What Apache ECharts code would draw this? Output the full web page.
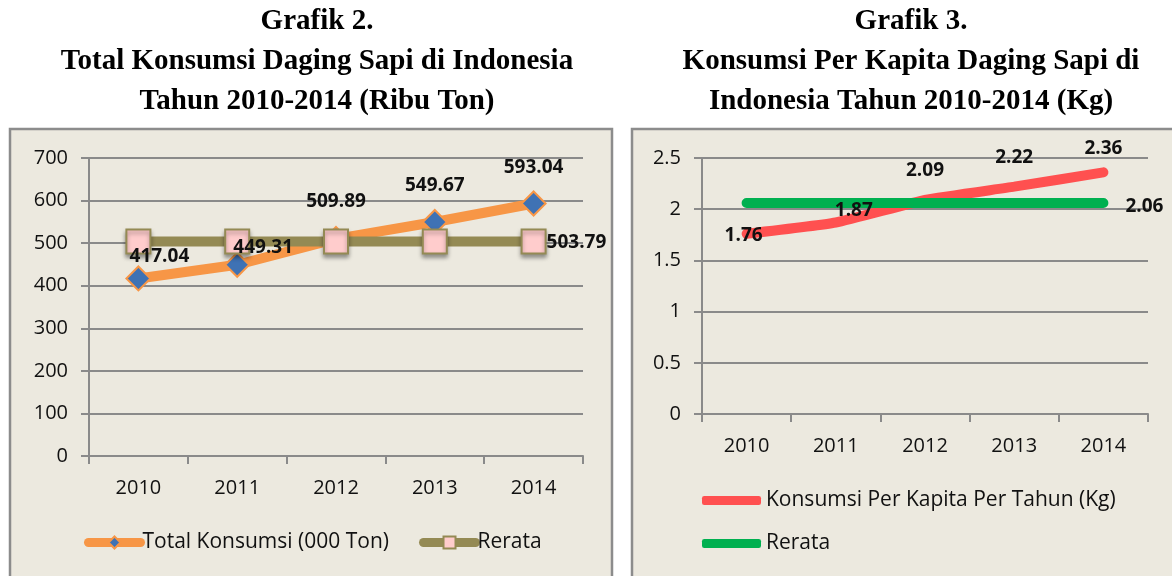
<!DOCTYPE html>
<html>
<head>
<meta charset="utf-8">
<script src="https://cdn.jsdelivr.net/npm/echarts@6/dist/echarts.min.js"></script>
<style>
  html, body { margin: 0; padding: 0; background: #ffffff; }
  #chart { width: 1172px; height: 576px; }
</style>
</head>
<body>
<div id="chart"></div>
<script>
// data
const years = ['2010', '2011', '2012', '2013', '2014'];
const totalKonsumsi = [417.04, 449.31, 509.89, 549.67, 593.04];
const rerataTotal = [503.79, 503.79, 503.79, 503.79, 503.79];
const perKapita = [1.76, 1.87, 2.09, 2.22, 2.36];
const rerataKapita = [2.06, 2.06, 2.06, 2.06, 2.06];
const ticksTotal = [0, 100, 200, 300, 400, 500, 600, 700];
const ticksKapita = [0, 0.5, 1, 1.5, 2, 2.5];

// label offsets (px) for each point
const offTotal = [[21, -22], [26, -17], [0, -37], [0, -36], [0, -36]];
const offKapita = [[-3, 2], [18, -12], [0, -29], [0, -29], [0, -24]];

const chart = echarts.init(document.getElementById('chart'));
const FONT = '"Open Sans", "Liberation Sans", sans-serif';
const SERIF = '"Liberation Serif", "DejaVu Serif", serif';
const gridCol = '#8a8a8a';
const panelBg = '#ecE9df';

const valLabel = {
    show: true,
    fontFamily: FONT,
    fontWeight: 'bold',
    fontSize: 19,
    color: '#111'
};

function lastOnly(vals, dist, off) {
    return vals.map((v, i) => ({
        value: v,
        label: i === vals.length - 1
            ? Object.assign({}, valLabel, { position: 'right', distance: dist, offset: off })
            : { show: false }
    }));
}

function withOffsets(vals, offs) {
    return vals.map((v, i) => ({
        value: v,
        label: Object.assign({}, valLabel, { position: 'inside', offset: offs[i] })
    }));
}

// invisible series only carrying the value labels, so they sit above every line
function labelSeries(gi, vals, offs) {
    return {
        name: 'label' + gi, type: 'line', xAxisIndex: gi, yAxisIndex: gi,
        data: withOffsets(vals, offs),
        symbol: 'circle', symbolSize: 0.1, showSymbol: true, silent: true,
        lineStyle: { width: 0, opacity: 0 },
        itemStyle: { color: 'rgba(0,0,0,0)' },
        z: 10
    };
}

function catAxis(gi) {
    return {
        type: 'category',
        gridIndex: gi,
        data: years,
        boundaryGap: true,
        axisLine: { lineStyle: { color: gridCol, width: 2 } },
        axisTick: { show: true, length: 8, lineStyle: { color: gridCol, width: 2 } },
        axisLabel: { fontFamily: FONT, fontSize: 20, color: '#111', margin: 22 }
    };
}

function valAxis(gi, ticks) {
    const step = ticks[1] - ticks[0];
    return {
        type: 'value',
        gridIndex: gi,
        min: ticks[0],
        max: ticks[ticks.length - 1],
        interval: step,
        axisLine: { show: true, lineStyle: { color: gridCol, width: 2 } },
        axisTick: { show: true, length: 8, lineStyle: { color: gridCol, width: 2 } },
        splitLine: { lineStyle: { color: gridCol, width: 2 } },
        axisLabel: { fontFamily: FONT, fontSize: 20, color: '#111', margin: 21 }
    };
}

chart.setOption({
    backgroundColor: '#ffffff',
    animation: false,
    graphic: [
        { type: 'rect', z: -10, shape: { x: 10, y: 129, width: 602, height: 470 },
          style: { fill: panelBg, stroke: '#8c8c8c', lineWidth: 2.5 } },
        { type: 'rect', z: -10, shape: { x: 632, y: 129, width: 560, height: 470 },
          style: { fill: panelBg, stroke: '#8c8c8c', lineWidth: 2.5 } }
    ],
    title: [
        { text: 'Grafik 2.\nTotal Konsumsi Daging Sapi di Indonesia\nTahun 2010-2014 (Ribu Ton)',
          left: 312, top: -3, textAlign: 'center',
          textStyle: { fontFamily: SERIF, fontWeight: 'bold', fontSize: 29, lineHeight: 40, color: '#000' } },
        { text: 'Grafik 3.\nKonsumsi Per Kapita Daging Sapi di\nIndonesia Tahun 2010-2014 (Kg)',
          left: 906, top: -3, textAlign: 'center',
          textStyle: { fontFamily: SERIF, fontWeight: 'bold', fontSize: 29, lineHeight: 40, color: '#000' } }
    ],
    legend: [
        { data: ['Total Konsumsi (000 Ton)', 'Rerata'], left: 79, top: 527,
          itemWidth: 52, itemHeight: 15, itemGap: 30,
          lineStyle: { width: 9, cap: 'round' },
          textStyle: { fontFamily: FONT, fontSize: 21, color: '#111', padding: [0, 0, 0, -3] } },
        { data: [{ name: 'Konsumsi Per Kapita Per Tahun (Kg)', icon: 'roundRect' },
                 { name: 'Rerata ', icon: 'roundRect' }],
          left: 697, top: 485, orient: 'vertical', itemWidth: 59, itemHeight: 9, itemGap: 22,
          textStyle: { fontFamily: FONT, fontSize: 21, color: '#111' } }
    ],
    grid: [
        { left: 89, top: 158, width: 494, height: 298 },
        { left: 702, top: 158, width: 446, height: 256 }
    ],
    xAxis: [catAxis(0), catAxis(1)],
    yAxis: [valAxis(0, ticksTotal), valAxis(1, ticksKapita)],
    series: [
        {
            name: 'Total Konsumsi (000 Ton)', type: 'line', xAxisIndex: 0, yAxisIndex: 0,
            data: totalKonsumsi,
            symbol: 'diamond', symbolSize: 24,
            lineStyle: { color: '#f79646', width: 10 },
            itemStyle: { color: '#3f72b4', borderColor: '#f79646', borderWidth: 2 },
            z: 2
        },
        {
            name: 'Rerata', type: 'line', xAxisIndex: 0, yAxisIndex: 0,
            data: lastOnly(rerataTotal, 0, [0, 1]),
            symbol: 'rect', symbolSize: 24,
            lineStyle: { color: '#948a54', width: 10 },
            itemStyle: { color: '#ffcccc', borderColor: '#948a54', borderWidth: 2,
                         shadowColor: 'rgba(0,0,0,0.35)', shadowBlur: 4, shadowOffsetY: 3 },
            z: 3
        },
        labelSeries(0, totalKonsumsi, offTotal),
        {
            name: 'Konsumsi Per Kapita Per Tahun (Kg)', type: 'line', xAxisIndex: 1, yAxisIndex: 1,
            data: perKapita,
            symbol: 'none', smooth: 0.15,
            lineStyle: { color: '#ff5050', width: 10, cap: 'round' },
            itemStyle: { color: '#ff5050' },
            z: 2
        },
        {
            name: 'Rerata ', type: 'line', xAxisIndex: 1, yAxisIndex: 1,
            data: lastOnly(rerataKapita, 22, [0, 4]),
            symbol: 'circle', symbolSize: 0.1,
            lineStyle: { color: '#00b050', width: 10, cap: 'round' },
            itemStyle: { color: '#00b050' },
            z: 3
        },
        labelSeries(1, perKapita, offKapita)
    ]
});
</script>
</body>
</html>
